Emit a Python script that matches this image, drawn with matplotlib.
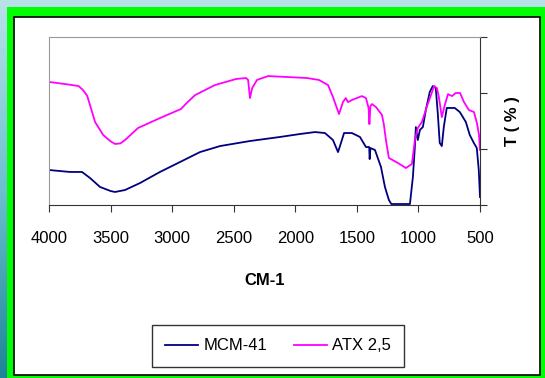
import numpy as np
import matplotlib
matplotlib.use("Agg")
import matplotlib.pyplot as plt
from matplotlib.patches import Rectangle
from matplotlib.lines import Line2D

# FTIR spectra (wavenumber cm-1, transmittance, arbitrary %)
wn_atx = [4000, 3870, 3760, 3724, 3690, 3667, 3626, 3560, 3500, 3464, 3420, 3383, 3277,
          3099, 2928, 2880, 2814, 2652, 2481, 2400, 2383, 2368, 2350, 2311, 2221, 1905,
          1808, 1734, 1694, 1645, 1613, 1590, 1572, 1540, 1459, 1426, 1405, 1398, 1390,
          1378, 1345, 1296, 1280, 1264, 1240, 1166, 1102, 1053, 1029, 1005, 972, 930,
          898, 873, 850, 834, 810, 786, 760, 727, 698, 662, 630, 590, 549, 525, 508, 500]
t_atx = [87.9, 86.4, 85.0, 82.1, 78.0, 71.4, 59.3, 50.0, 45.5, 43.6, 44.0, 46.4, 55.0,
         62.1, 68.6, 73.0, 78.5, 85.7, 90.0, 90.7, 89.3, 76.4, 83.5, 89.3, 92.1, 90.7,
         89.3, 85.7, 77.1, 65.0, 73.5, 76.4, 73.5, 75.0, 77.8, 76.4, 69.3, 57.8, 70.7,
         72.1, 70.0, 64.3, 57.1, 46.4, 33.6, 30.0, 26.4, 29.3, 46.4, 55.0, 59.3, 70.7,
         78.5, 85.0, 83.5, 77.1, 62.8, 71.4, 79.2, 77.8, 80.0, 80.0, 73.5, 67.8, 66.4,
         58.5, 50.0, 39.3]

wn_mcm = [4000, 3830, 3732, 3667, 3586, 3500, 3464, 3383, 3261, 3099, 2936, 2774, 2611,
          2368, 2124, 1962, 1840, 1759, 1694, 1653, 1629, 1604, 1540, 1475, 1426,
          1400, 1396, 1390, 1353, 1304, 1272, 1240, 1220, 1069, 1045, 1029, 1021,
          1005, 988, 964, 940, 908, 883, 859, 843, 827, 810, 794, 770, 705, 664,
          615, 583, 550, 526, 510, 500]
t_mcm = [25.0, 23.6, 23.6, 19.3, 12.9, 10.0, 9.3, 10.7, 15.7, 23.6, 30.7, 37.8, 42.1,
         45.7, 48.6, 50.7, 52.1, 51.4, 46.4, 37.8, 44.3, 51.4, 51.4, 48.6, 41.4,
         41.4, 32.8, 40.7, 39.3, 27.1, 12.9, 3.6, 0.7, 0.7, 20.0, 41.4, 55.7,
         46.4, 53.6, 55.7, 67.8, 80.7, 85.0, 83.5, 65.7, 44.3, 42.1, 55.7, 69.3, 69.3, 66.4,
         59.3, 50.0, 44.3, 40.7, 25.0, 5.7]

x_ticks = [4000, 3500, 3000, 2500, 2000, 1500, 1000, 500]

plt.rcParams["font.family"] = ["Liberation Sans", "DejaVu Sans"]

W, H = 545, 378
fig = plt.figure(figsize=(W / 100, H / 100), dpi=100)

# textured blue backdrop, roughly: light at top, teal lower left
bg = fig.add_axes([0, 0, 1, 1], zorder=-10)
grad = np.linspace(0, 1, 256).reshape(-1, 1)
bg.imshow(grad, aspect="auto", cmap=matplotlib.colors.LinearSegmentedColormap.from_list(
    "bgc", ["#b8e2ea", "#6cc0cf", "#1c8597"]), extent=[0, 1, 0, 1], origin="upper")
bg.set_xlim(0, 1); bg.set_ylim(0, 1); bg.axis("off")
# green frame and white panel
bg.add_patch(Rectangle((7 / W, 0), 1 - 7 / W, 1 - 7 / H, facecolor="#00ff00",
                       edgecolor="none", transform=bg.transAxes))
bg.add_patch(Rectangle((14 / W, 3 / H), (540 - 14) / W, (375 - 17) / H,
                       facecolor="white", edgecolor="black", lw=1.2, transform=bg.transAxes))

ax = fig.add_axes([49 / W, 1 - 205 / H, (480 - 49) / W, (205 - 37) / H])
ax.plot(wn_mcm, t_mcm, color="#000080", lw=1.3)
ax.plot(wn_atx, t_atx, color="#ff00ff", lw=1.3)
ax.set_xlim(4000, 500)
ax.set_ylim(0, 120)
ax.set_xticks(x_ticks)
ax.set_xticklabels([str(v) for v in x_ticks], fontsize=12)
ax.set_yticks([0, 40, 80, 120])
ax.yaxis.tick_right()
ax.tick_params(axis="y", direction="out", length=5, labelright=False, color="#333333")
ax.tick_params(axis="x", direction="out", length=5, pad=14, color="#333333")
for s in ("left", "top"):
    ax.spines[s].set_color("#999999")
for s in ("right", "bottom"):
    ax.spines[s].set_color("#333333")
ax.set_xlabel("CM-1", fontsize=12, fontweight="bold", labelpad=19)
fig.text(513 / W, 1 - 121 / H, "T ( % )", rotation=90, ha="center", va="center",
         fontsize=12, fontweight="bold")

handles = [Line2D([], [], color="#000080", lw=1.3), Line2D([], [], color="#ff00ff", lw=1.3)]
leg = fig.legend(handles, ["MCM-41", "ATX 2,5"], loc="center",
                 bbox_to_anchor=(278 / W, 1 - 346 / H), ncol=2, fontsize=12,
                 frameon=True, fancybox=False, edgecolor="black", handlelength=2.0,
                 columnspacing=1.6, handletextpad=0.3, borderpad=0.8, borderaxespad=0)
leg.get_frame().set_linewidth(1.0)

fig.savefig("out.png", dpi=100)
